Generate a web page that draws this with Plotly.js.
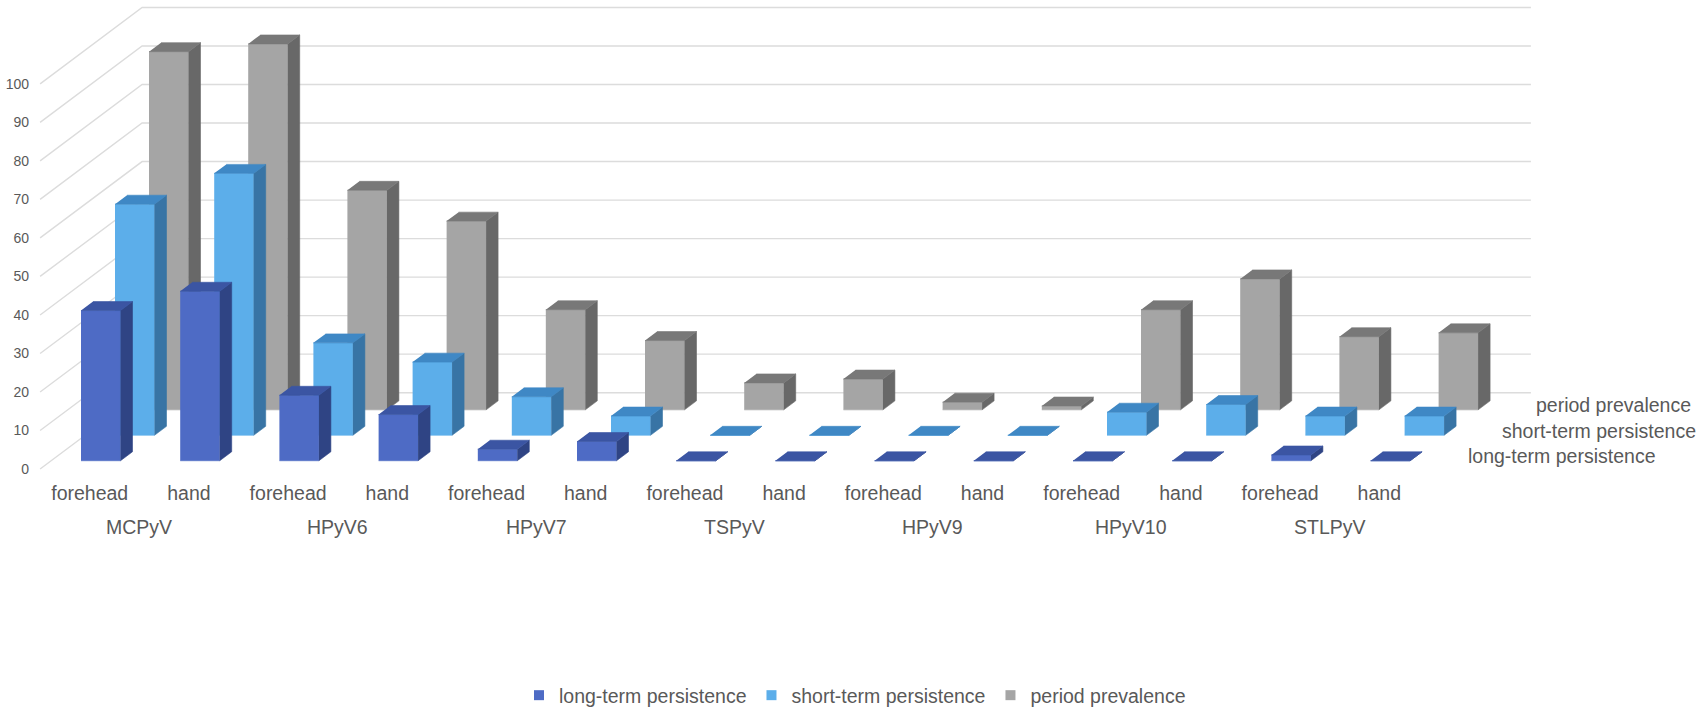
<!DOCTYPE html>
<html>
<head>
<meta charset="utf-8">
<script src="https://cdn.plot.ly/plotly-3.0.1.min.js"></script>
<style>
  html, body { margin: 0; padding: 0; background: #fff; }
  #chart { width: 1700px; height: 715px; }
</style>
</head>
<body>
<div id="chart"></div>
<script>
// virus groups and sampling sites (two bars per group)
var groups = ["MCPyV", "HPyV6", "HPyV7", "TSPyV", "HPyV9", "HPyV10", "STLPyV"];
var sites = ["forehead", "hand"];

// values in %, order: group x site
var longTerm   = [39, 44, 17, 12, 3, 5, 0, 0, 0, 0, 0, 0, 1.5, 0];
var shortTerm  = [60, 68, 24, 19, 10, 5, 0, 0, 0, 0, 6, 8, 5, 5];
var periodPrev = [93, 95, 57, 49, 26, 18, 7, 8, 2, 1, 26, 34, 19, 20];

var seriesNames = ["long-term persistence", "short-term persistence", "period prevalence"];
var yTicks = [0, 10, 20, 30, 40, 50, 60, 70, 80, 90, 100];

// look of the fake 3d columns
var faceColors = [
    { front: "#4e6bc5", top: "#3b55a3", side: "#2f4484" },
    { front: "#5caeea", top: "#3f88c5", side: "#3874a5" },
    { front: "#a5a5a5", top: "#787878", side: "#686868" }
];
var pxX = 99.2, pxY = 3.86;          // pixels per category / per percent
var dx = 34 / pxX, dy = 25.5 / pxY;  // shift of one row of depth
var half = 0.199;                    // half bar width
var dFront = 0.325, dDepth = 0.353;  // bar position inside its row
var nWall = 3;                       // depth of the floor, in rows

var labels = [];
groups.forEach(function (g) { sites.forEach(function (s) { labels.push(s); }); });
var nCat = labels.length;

var traces = [];

// walls: left wall diagonals and back wall horizontals
var gx = [], gy = [];
yTicks.forEach(function (v) {
    gx.push(-0.5, -0.5 + nWall * dx, nCat - 0.5 + nWall * dx, null);
    gy.push(v, v + nWall * dy, v + nWall * dy, null);
});
traces.push({
    x: gx, y: gy, mode: "lines", type: "scatter",
    line: { color: "#dcdcdc", width: 1.4 },
    hoverinfo: "skip", showlegend: false
});

function faceTrace(xs, ys, color) {
    return {
        x: xs, y: ys, type: "scatter", mode: "lines", fill: "toself",
        fillcolor: color, line: { color: color, width: 0.6 },
        hoverinfo: "skip", showlegend: false
    };
}

var rows = [longTerm, shortTerm, periodPrev];
// back row first so the front rows cover it
for (var r = rows.length - 1; r >= 0; r--) {
    var vals = rows[r];
    var f = { x: [], y: [] }, t = { x: [], y: [] }, s = { x: [], y: [] };
    var bx = dDepth * dx, by = dDepth * dy;
    for (var i = 0; i < nCat; i++) {
        var x0 = i - half + (r + dFront) * dx;
        var x1 = i + half + (r + dFront) * dx;
        var y0 = (r + dFront) * dy;
        var y1 = y0 + vals[i];
        f.x.push(x0, x1, x1, x0, null);
        f.y.push(y0, y0, y1, y1, null);
        t.x.push(x0, x1, x1 + bx, x0 + bx, null);
        t.y.push(y1, y1, y1 + by, y1 + by, null);
        s.x.push(x1, x1 + bx, x1 + bx, x1, null);
        s.y.push(y0, y0 + by, y1 + by, y1, null);
    }
    traces.push(faceTrace(f.x, f.y, faceColors[r].front));
    traces.push(faceTrace(s.x, s.y, faceColors[r].side));
    traces.push(faceTrace(t.x, t.y, faceColors[r].top));
}

// legend entries
seriesNames.forEach(function (name, k) {
    traces.push({
        x: [null], y: [null], type: "scatter", mode: "markers", name: name,
        marker: { symbol: "square", size: 10, color: faceColors[k].front }
    });
});

var annotations = [];
groups.forEach(function (g, k) {
    annotations.push({
        x: 2 * k + 0.5, xref: "x", y: -0.1, yref: "paper",
        text: g, showarrow: false, xanchor: "center", yanchor: "middle",
        font: { size: 19.5, color: "#595959" }
    });
});
seriesNames.forEach(function (name, k) {
    annotations.push({
        x: nCat - 0.5 + (k + 0.5) * dx, xref: "x",
        y: (k + 0.5) * dy, yref: "y",
        text: name, showarrow: false, xanchor: "left", yanchor: "middle",
        xshift: 20, font: { size: 19.5, color: "#595959" }
    });
});

var W = 1700, H = 715, mL = 30, mT = 2, mB = 235;
var layout = {
    width: W, height: H,
    margin: { l: mL, r: 0, t: mT, b: mB, pad: 0 },
    paper_bgcolor: "#fff", plot_bgcolor: "#fff",
    font: { family: "Liberation Sans, Arial, sans-serif", color: "#595959" },
    xaxis: {
        range: [(mL - 89.7) / pxX, (W - 89.7) / pxX],
        showgrid: false, zeroline: false, showline: false,
        tickmode: "array",
        tickvals: labels.map(function (_, i) { return i; }),
        ticktext: labels, ticks: "", tickfont: { size: 19.5, color: "#595959" }
    },
    yaxis: {
        range: [(470 - (H - mB)) / pxY, (470 - mT) / pxY],
        showgrid: false, zeroline: false, showline: false,
        tickmode: "array", tickvals: yTicks, ticks: "",
        tickfont: { size: 14, color: "#595959" }
    },
    showlegend: true,
    legend: {
        orientation: "h", x: 0.494, xanchor: "center", y: -0.454, yanchor: "middle",
        itemwidth: 30, tracegroupgap: 0,
        font: { size: 19.5, color: "#595959" }
    },
    annotations: annotations
};

Plotly.newPlot("chart", traces, layout, { staticPlot: true });
</script>
</body>
</html>
